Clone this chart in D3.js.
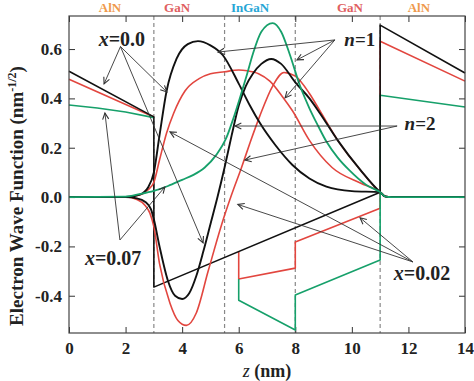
<!DOCTYPE html>
<html><head><meta charset="utf-8">
<script src="https://cdn.jsdelivr.net/npm/d3@7"></script>
<style>body{margin:0;background:#fff}svg{display:block}</style>
</head><body>
<svg id="c" width="474" height="381"></svg>
<script>
// ---------- data ----------
const xTicks = [0, 2, 4, 6, 8, 10, 12, 14];
const yTicks = [-0.4, -0.2, 0.0, 0.2, 0.4, 0.6];
const interfaces = [3, 5.5, 8, 11];
const regionLabels = ["AlN", "GaN", "InGaN", "GaN", "AlN"];
const regionCenters = [1.45, 3.82, 6.4, 9.93, 12.37];

// potential profiles (x = 0.0 black, 0.02 red, 0.07 green)
const potBlack = [[0,0.51],[3,0.325],[3,-0.365],[11,0.02],[11,0.697],[14,0.503]];
const potRedL = [[0,0.478],[3,0.325]];
const potRed = [[6,-0.223],[6,-0.332],[8,-0.288],[8,-0.182],[11,-0.045],[11,0.632],[14,0.47]];
const potGreenL = [[0,0.373],[1,0.361],[2,0.345],[3,0.322]];
const potGreen = [[6,-0.332],[6,-0.418],[8,-0.539],[8,-0.397],[11,-0.255],[11,0.413],[14,0.365]];

// wave functions
const blackN1 = [[0,0],[2,0],[2.5,0.01],[2.8,0.04],[3,0.1],[3.2,0.25],[3.45,0.43],[3.8,0.56],[4.2,0.62],[4.56,0.632],[5,0.615],[5.44,0.575],[6,0.46],[6.4,0.37],[6.75,0.3],[7.3,0.21],[7.9,0.13],[8.5,0.075],[9.1,0.042],[10,0.024],[11,0.02],[11.15,0.003],[11.4,0],[14,0]];
const blackN2 = [[0,0],[2,0],[2.4,-0.005],[2.7,-0.02],[2.9,-0.05],[3,-0.09],[3.2,-0.2],[3.5,-0.34],[3.75,-0.4],[4,-0.413],[4.25,-0.39],[4.5,-0.32],[4.75,-0.22],[5,-0.11],[5.25,0],[5.5,0.12],[5.75,0.25],[6,0.37],[6.25,0.45],[6.5,0.5],[6.8,0.54],[7.15,0.56],[7.5,0.54],[8,0.465],[8.5,0.4],[8.87,0.34],[9.5,0.23],[10.3,0.11],[11,0.02],[11.2,0.002],[11.4,0],[14,0]];
const redN1 = [[0,0],[2,0],[2.5,0.008],[2.8,0.03],[3,0.06],[3.2,0.15],[3.45,0.26],[3.7,0.34],[4.1,0.43],[4.6,0.48],[5,0.5],[5.5,0.508],[6,0.515],[6.3,0.512],[6.7,0.5],[7.1,0.47],[7.56,0.405],[7.9,0.35],[8.5,0.23],[9.3,0.12],[10.3,0.057],[11,0.02],[11.2,0.002],[11.4,0],[14,0]];
const redN2 = [[0,0],[2,0],[2.4,-0.01],[2.7,-0.035],[2.86,-0.065],[3,-0.12],[3.2,-0.27],[3.57,-0.43],[3.85,-0.5],[4.15,-0.52],[4.5,-0.47],[4.92,-0.3],[5.4,-0.11],[5.75,0.01],[6.1,0.12],[6.4,0.22],[6.75,0.33],[7.2,0.45],[7.6,0.505],[8,0.49],[8.5,0.42],[8.87,0.35],[9.5,0.23],[10.3,0.11],[11,0.02],[11.2,0.002],[11.4,0],[14,0]];
const greenN1 = [[0,0],[2,0.002],[2.5,0.012],[3,0.025],[3.5,0.045],[4,0.07],[4.4,0.09],[4.8,0.12],[5.2,0.17],[5.58,0.245],[5.8,0.315],[6.05,0.405],[6.3,0.5],[6.5,0.58],[6.8,0.67],[7.2,0.705],[7.5,0.67],[7.8,0.58],[8.17,0.45],[8.5,0.36],[8.8,0.29],[9.1,0.225],[9.5,0.16],[9.9,0.11],[10.5,0.05],[11,0.02],[11.2,0.002],[11.4,0],[14,0]];

// annotations: label, label centre, arrow source, arrow targets (data units)
const annLabels = ["x=0.0", "x=0.07", "x=0.02", "n=1", "n=2"];
const annCentres = [[1.87,0.64],[1.56,-0.247],[12.48,-0.308],[10.28,0.64],[12.41,0.30]];
const annSources = [[1.82,0.61],[1.80,-0.174],[12.16,-0.263],[9.40,0.637],[11.6,0.288]];
const annTargets = [
  [[1.24,0.459],[3.46,0.426],[4.74,-0.186]],
  [[1.27,0.341],[3.39,0.041]],
  [[3.57,0.264],[5.97,-0.03],[10.29,-0.084]],
  [[5.27,0.588],[8.06,0.556],[7.64,0.402]],
  [[5.87,0.288],[6.22,0.15]]
];

// ---------- drawing ----------
const L = 69, R = 465, T = 16, B = 333;
const x = d3.scaleLinear([0, 14], [L, R]);
const y = d3.scaleLinear([-0.551, 0.734], [B, T]);
const svg = d3.select("#c");
const serif = "'Liberation Serif','Times New Roman',serif";
const BLK = "#111", RED = "#e2463f", GRN = "#16a06a";

// dashed interfaces
svg.append("g").selectAll("line").data(interfaces).join("line")
  .attr("x1", d => x(d)).attr("x2", d => x(d)).attr("y1", T).attr("y2", B)
  .attr("stroke", "#888").attr("stroke-width", 1.2).attr("stroke-dasharray", "4,3");

// axes
function styleAxis(g) {
  g.select(".domain").remove();
  g.selectAll(".tick line").attr("stroke", "#333").attr("stroke-width", 1);
  g.selectAll("text").attr("font-family", serif).attr("font-weight", "bold")
    .attr("font-size", 17).attr("fill", "#222");
}
svg.append("g").attr("transform", `translate(0,${B})`)
  .call(d3.axisBottom(x).tickValues(xTicks).tickSize(-6).tickPadding(9).tickFormat(d3.format("d")))
  .call(styleAxis);
svg.append("g").attr("transform", `translate(0,${T})`)
  .call(d3.axisTop(x).tickValues(xTicks).tickSize(-6).tickFormat(""))
  .call(styleAxis);
svg.append("g").attr("transform", `translate(${L},0)`)
  .call(d3.axisLeft(y).tickValues(yTicks).tickSize(-6).tickPadding(7).tickFormat(d => d.toFixed(1)))
  .call(styleAxis);
svg.append("g").attr("transform", `translate(${R},0)`)
  .call(d3.axisRight(y).tickValues(yTicks).tickSize(-6).tickFormat(""))
  .call(styleAxis);

// lines
const lin = d3.line().x(d => x(d[0])).y(d => y(d[1]));
const smooth = d3.line().x(d => x(d[0])).y(d => y(d[1])).curve(d3.curveMonotoneX);
const plot = svg.append("g");
function path(gen, data, col, w) {
  plot.append("path").attr("d", gen(data)).attr("fill", "none")
    .attr("stroke", col).attr("stroke-width", w).attr("stroke-linejoin", "round");
}
path(lin, potRedL, RED, 1.6);
path(lin, potRed, RED, 1.6);
path(lin, potGreenL, GRN, 1.6);
path(lin, potGreen, GRN, 1.6);
path(lin, potBlack, BLK, 1.6);
path(smooth, redN2, RED, 1.6);
path(smooth, redN1, RED, 1.6);
path(smooth, blackN2, BLK, 1.9);
path(smooth, blackN1, BLK, 1.9);
path(smooth, greenN1, GRN, 1.8);

// annotations
const ann = svg.append("g");
annLabels.forEach((lab, i) => {
  const s = annSources[i];
  annTargets[i].forEach(t => {
    const x0 = x(s[0]), y0 = y(s[1]), x1 = x(t[0]), y1 = y(t[1]);
    ann.append("line").attr("x1", x0).attr("y1", y0).attr("x2", x1).attr("y2", y1)
      .attr("stroke", "#333").attr("stroke-width", 0.9);
    const a = Math.atan2(y1 - y0, x1 - x0), len = 7, sp = 0.45;
    const p1 = [x1 - len * Math.cos(a - sp), y1 - len * Math.sin(a - sp)];
    const p2 = [x1 - len * Math.cos(a + sp), y1 - len * Math.sin(a + sp)];
    ann.append("path").attr("d", `M${p1}L${x1},${y1}L${p2}`).attr("fill", "none")
      .attr("stroke", "#333").attr("stroke-width", 1.1);
  });
  const c = annCentres[i];
  const isN = lab[0] === "n";
  const t = ann.append("text").attr("x", x(c[0])).attr("y", y(c[1]))
    .attr("text-anchor", "middle").attr("dominant-baseline", "central")
    .attr("font-family", serif).attr("font-weight", "bold")
    .attr("font-size", isN ? 19 : 20).attr("fill", "#222");
  t.append("tspan").attr("font-style", "italic").text(lab[0]);
  t.append("tspan").text(lab.slice(1));
});

// frame
svg.append("rect").attr("x", L).attr("y", T).attr("width", R - L).attr("height", B - T)
  .attr("fill", "none").attr("stroke", "#444").attr("stroke-width", 1.2);

// region labels
const regionColors = {"AlN": "#ef9a4c", "GaN": "#e06060", "InGaN": "#26a6d6"};
svg.append("g").selectAll("text").data(regionLabels).join("text")
  .attr("x", (d, i) => x(regionCenters[i])).attr("y", 12)
  .attr("text-anchor", "middle").attr("font-family", serif).attr("font-weight", "bold")
  .attr("font-size", 13).attr("fill", d => regionColors[d]).text(d => d);

// axis titles
const xt = svg.append("text").attr("x", 267).attr("y", 377).attr("text-anchor", "middle")
  .attr("font-family", serif).attr("font-weight", "bold").attr("font-size", 18).attr("fill", "#222");
xt.append("tspan").attr("font-style", "italic").attr("font-weight", "normal").text("z");
xt.append("tspan").text(" (nm)");
const yt = svg.append("text").attr("transform", "translate(23,196) rotate(-90)")
  .attr("text-anchor", "middle").attr("font-family", serif).attr("font-weight", "bold")
  .attr("font-size", 19).attr("fill", "#222");
yt.append("tspan").text("Electron Wave Function (nm");
yt.append("tspan").attr("font-size", 12).attr("dy", -7).text("-1/2");
yt.append("tspan").attr("dy", 7).text(")");
</script>
</body></html>
